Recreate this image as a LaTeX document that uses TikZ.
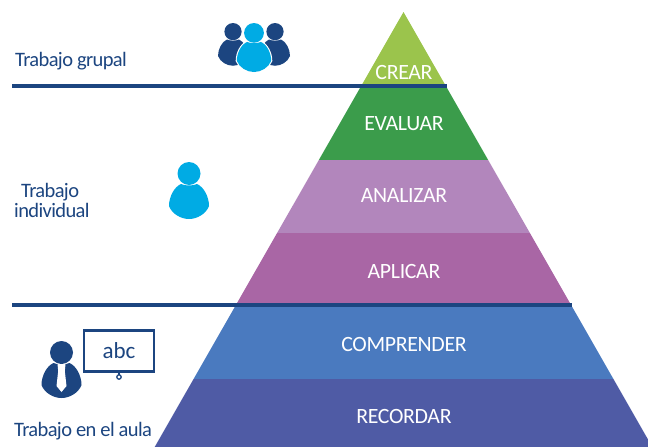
\documentclass[tikz,border=0pt]{standalone}
\usepackage{fontspec}
\setmainfont{Carlito}
\newfontfamily\tight[LetterSpace=-3]{Carlito}
\newfontfamily\tightb[LetterSpace=-1.5]{Carlito}
\definecolor{navy}{HTML}{1C4580}
\definecolor{cyanp}{HTML}{00ABE4}
\definecolor{crear}{HTML}{9BC44C}
\definecolor{evaluar}{HTML}{3B9C4B}
\definecolor{analizar}{HTML}{B286BC}
\definecolor{aplicar}{HTML}{A966A5}
\definecolor{comprender}{HTML}{4A7ABF}
\definecolor{recordar}{HTML}{4F5BA5}
\newcommand{\band}[3]{\fill[#1] ({403.5-(#2-12)*0.572},#2) -- ({403.5+(#2-12)*0.572},#2) -- ({403.5+(#3-12)*0.572},#3) -- ({403.5-(#3-12)*0.572},#3) -- cycle;}
\newcommand{\bodypath}{(-8,22) .. controls (-15,25) and (-20,35) .. (-20,44) .. controls (-17,52) and (-8,57) .. (0,57) .. controls (8,57) and (17,52) .. (20,44) .. controls (20,35) and (15,25) .. (8,22) .. controls (4,24) and (-4,24) .. (-8,22) -- cycle}
\newcommand{\person}[5]{% x, y(top of head), xy scale, colour, outline width
 \begin{scope}[shift={(#1,#2)},scale=#3]
 \ifdim#5pt>0pt
 \draw[white,line width=#5pt] (0,11.5) circle (11.5);
 \draw[white,line width=#5pt] \bodypath;
 \fi
 \fill[#4] \bodypath;
 \fill[#4] (0,11.5) circle (11.5);
 \end{scope}}
\tikzset{
 lvl/.style={text=white,font=\tightb\fontsize{21.8}{21}\selectfont,inner sep=0pt,anchor=base},
 side/.style={text=navy,font=\tight\fontsize{20.5}{20}\selectfont,inner sep=0pt,anchor=base west},
 rule/.style={draw=navy,line width=3.3pt}
}
\begin{document}
\begin{tikzpicture}[x=1pt,y=-1pt]
\useasboundingbox (0,0) rectangle (648,447);
\band{crear}{12}{86}
\band{evaluar}{86}{160}
\band{analizar}{160}{233}
\band{aplicar}{233}{305}
\band{comprender}{305}{379}
\band{recordar}{379}{447}
\coordinate (r1a) at (12,86); \coordinate (r1b) at (447,86);
\coordinate (r2a) at (12,305); \coordinate (r2b) at (572,305);
\draw[rule] (r1a) -- (r1b);
\draw[rule] (r2a) -- (r2b);
\node[lvl] (crear) at (404,79) {CREAR};
\node[lvl] (evaluar) at (404,130) {EVALUAR};
\node[lvl] (analizar) at (404,202) {ANALIZAR};
\node[lvl] (aplicar) at (404,278) {APLICAR};
\node[lvl] (comprender) at (404,351) {COMPRENDER};
\node[lvl] (recordar) at (404,423) {RECORDAR};
\node[side] (grupal) at (15,66) {Trabajo grupal};
\node[side] (t1) at (21,197) {Trabajo};
\node[side] (t2) at (14,217) {individual};
\node[side] (aula) at (14,436) {Trabajo en el aula};
% group icon
\person{233}{23}{0.75}{navy}{0}
\person{275}{23}{0.75}{navy}{0}
\person{254}{23}{0.86}{cyanp}{2.2}
% individual icon
\person{189}{162}{1}{cyanp}{0}
% teacher icon
\person{61.5}{341}{1}{navy}{0}
\fill[white] (57.5,364) -- (65.5,364) -- (64.8,371) -- (66.5,386) -- (61.5,392) -- (56.5,386) -- (58.2,371) -- cycle;
\node[draw=navy,line width=2.8pt,minimum width=70pt,minimum height=41pt,inner sep=0pt,text=navy,font=\fontsize{23}{23}\selectfont] (board) at (119,351) {abc};
\coordinate (knob) at (119,377);
\draw[navy,line width=1.3pt] (board.south) -- (119,375);
\draw[navy,line width=1.3pt,fill=white] (knob) circle (2.2);
\end{tikzpicture}
\end{document}
